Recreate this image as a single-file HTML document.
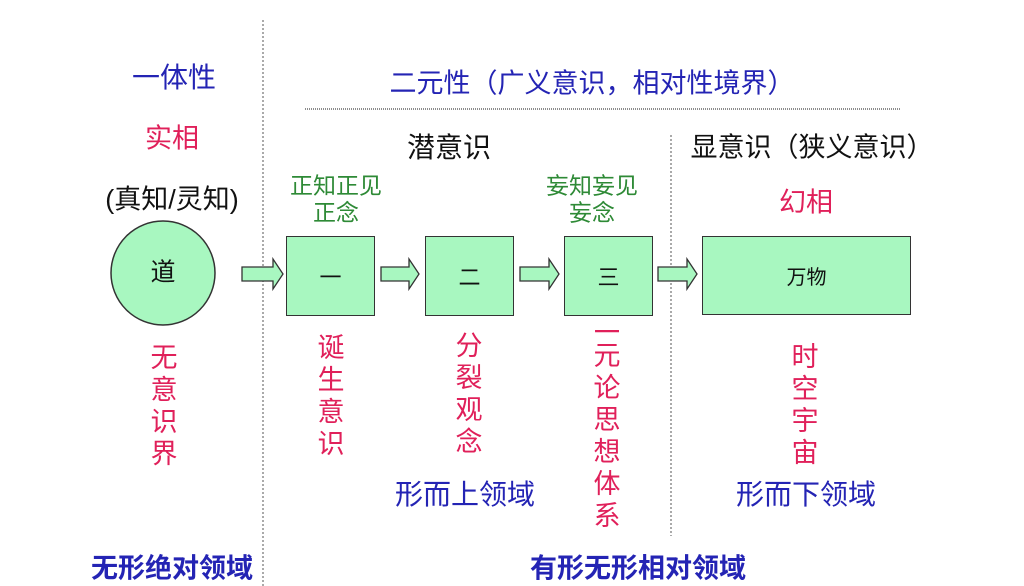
<!DOCTYPE html>
<html><head><meta charset="utf-8"><style>
body{margin:0;width:1024px;height:586px;background:#fff;position:relative;overflow:hidden;font-family:"Liberation Sans","Noto Sans CJK SC",sans-serif}
.t{position:absolute;white-space:nowrap;transform:translate(-50%,-50%);line-height:1}
.b{color:#2424b4}.r{color:#e0205a}.g{color:#2e8a36}.k{color:#111}
.box{position:absolute;background:#a8f7c0;border:1.5px solid #333;box-sizing:border-box;display:flex;align-items:center;justify-content:center;font-size:22px;color:#111}
.v{position:absolute;transform:translateX(-50%);font-size:27px;line-height:32px;width:32px;text-align:center}
</style></head><body>
<svg width="1024" height="586" style="position:absolute;left:0;top:0">
<line x1="263" y1="20" x2="263" y2="586" stroke="#555" stroke-dasharray="2,2" stroke-width="1"/>
<line x1="671" y1="135" x2="671" y2="536" stroke="#555" stroke-dasharray="2,2" stroke-width="1"/>
<line x1="305" y1="109" x2="900" y2="109" stroke="#666" stroke-dasharray="1,1" stroke-width="1.5"/>
<circle cx="163" cy="273" r="52" fill="#a8f7c0" stroke="#333" stroke-width="1.5"/>
<g fill="#a8f7c0" stroke="#333" stroke-width="1.3">
<path d="M242,267 h31 v-8 l10,15 l-10,15 v-8 h-31 z"/>
<path d="M381,267 h28 v-8 l10,15 l-10,15 v-8 h-28 z"/>
<path d="M520,267 h29 v-8 l10,15 l-10,15 v-8 h-29 z"/>
<path d="M658,267 h29 v-8 l10,15 l-10,15 v-8 h-29 z"/>
</g>
</svg>
<div class="v r" style="left:607px;top:308px">二元论思想体系</div>
<div class="box" style="left:286px;top:236px;width:89px;height:80px">一</div>
<div class="box" style="left:425px;top:236px;width:89px;height:80px">二</div>
<div class="box" style="left:564px;top:236px;width:89px;height:80px">三</div>
<div class="box" style="left:702px;top:236px;width:209px;height:79px;font-size:20px">万物</div>
<div class="t k" style="left:163px;top:273px;font-size:25px">道</div>
<div class="t b" style="left:174px;top:78px;font-size:28px">一体性</div>
<div class="t r" style="left:172px;top:139px;font-size:27px">实相</div>
<div class="t k" style="left:172px;top:200px;font-size:27px">(真知/灵知)</div>
<div class="t b" style="left:592px;top:84px;font-size:27px">二元性（广义意识，相对性境界）</div>
<div class="t k" style="left:449px;top:148px;font-size:28px">潜意识</div>
<div class="t k" style="left:812px;top:148px;font-size:27px">显意识（狭义意识）</div>
<div class="t g" style="left:336px;top:186px;font-size:23px">正知正见</div>
<div class="t g" style="left:336px;top:213px;font-size:23px">正念</div>
<div class="t g" style="left:592px;top:186px;font-size:23px">妄知妄见</div>
<div class="t g" style="left:592px;top:213px;font-size:23px">妄念</div>
<div class="t r" style="left:806px;top:203px;font-size:27px">幻相</div>
<div class="v r" style="left:164px;top:342px">无意识界</div>
<div class="v r" style="left:331px;top:332px">诞生意识</div>
<div class="v r" style="left:469px;top:330px">分裂观念</div>
<div class="v r" style="left:805px;top:341px">时空宇宙</div>
<div class="t b" style="left:465px;top:495px;font-size:28px">形而上领域</div>
<div class="t b" style="left:806px;top:495px;font-size:28px">形而下领域</div>
<div class="t b" style="left:172px;top:569px;font-size:27px;font-weight:bold">无形绝对领域</div>
<div class="t b" style="left:638px;top:569px;font-size:27px;font-weight:bold">有形无形相对领域</div>
</body></html>
